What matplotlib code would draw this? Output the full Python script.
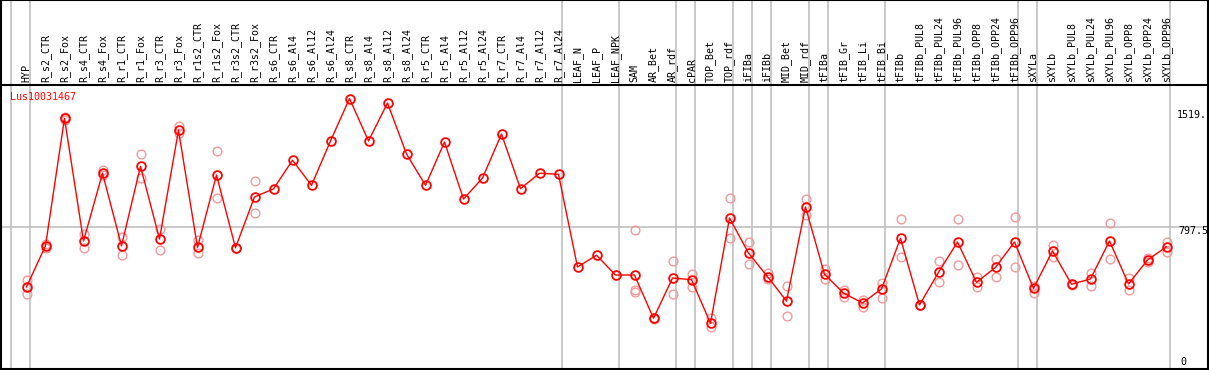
import matplotlib
matplotlib.use("Agg")
import matplotlib.pyplot as plt
from matplotlib.transforms import blended_transform_factory
from matplotlib.lines import Line2D

labels = ["HYP", "R_s2_CTR", "R_s2_Fox", "R_s4_CTR", "R_s4_Fox", "R_r1_CTR", "R_r1_Fox",
          "R_r3_CTR", "R_r3_Fox", "R_r1s2_CTR", "R_r1s2_Fox", "R_r3s2_CTR", "R_r3s2_Fox",
          "R_s6_CTR", "R_s6_Al4", "R_s6_Al12", "R_s6_Al24", "R_s8_CTR", "R_s8_Al4",
          "R_s8_Al12", "R_s8_Al24", "R_r5_CTR", "R_r5_Al4", "R_r5_Al12", "R_r5_Al24",
          "R_r7_CTR", "R_r7_Al4", "R_r7_Al12", "R_r7_Al24", "LEAF_N", "LEAF_P", "LEAF_NPK",
          "SAM", "AR_Bet", "AR_rdf", "cPAR", "TOP_Bet", "TOP_rdf", "iFIBa", "iFIBb",
          "MID_Bet", "MID_rdf", "tFIBa", "tFIB_Gr", "tFIB_Li", "tFIB_Bi", "tFIBb",
          "tFIBb_PUL8", "tFIBb_PUL24", "tFIBb_PUL96", "tFIBb_OPP8", "tFIBb_OPP24",
          "tFIBb_OPP96", "sXYLa", "sXYLb", "sXYLb_PUL8", "sXYLb_PUL24", "sXYLb_PUL96",
          "sXYLb_OPP8", "sXYLb_OPP24", "sXYLb_OPP96"]

means = [462, 693, 1408, 720, 1100, 693, 1139, 731, 1341, 684, 1090, 682, 967,
         1012, 1173, 1032, 1281, 1519, 1281, 1494, 1208, 1032, 1275, 955, 1073,
         1320, 1013, 1100, 1094, 574, 640, 529,
         529, 286, 512, 503, 258, 849, 652, 520, 383, 911, 533, 428, 372, 451,
         735, 361, 544, 714, 488, 572, 714, 454, 664, 477, 507, 720, 479, 613, 688]

replicates = [[501, 421], [703, 680], [1417, 1399], [759, 679], [1118, 1090], [740, 641],
              [1208, 1075], [787, 669], [1367, 1324], [725, 651], [1225, 959], [681, 683],
              [1056, 875],
              [], [], [], [], [], [], [], [], [], [], [], [], [], [], [], [],
              [], [], [],
              [782, 445, 434], [283, 289], [608, 421], [535, 460], [288, 239], [959, 735],
              [713, 591], [539, 505], [469, 299], [955, 866], [561, 507], [445, 407],
              [389, 351], [483, 398], [842, 628], [358, 363], [606, 488], [842, 583],
              [520, 460], [619, 520], [853, 572], [467, 430], [697, 628], [475, 479],
              [542, 467], [819, 617], [514, 445], [604, 622], [713, 660]]

group_ends = [-1, 0, 28, 31, 34, 35, 37, 38, 39, 41, 42, 45, 52, 53, 60]
gene = "Lus10031467"
y_max_axis = 1595
mid_line = 797.5
max_label = "1519."
mid_label = "797.5"
zero_label = "0"

W, H = 1209, 370
fig = plt.figure(figsize=(W / 100, H / 100), dpi=100)
top_px = 85
bot_px = 369.3
ax = fig.add_axes([0, (H - bot_px) / H, 1, (bot_px - top_px) / H])
step = 19.0
x0 = 26.5
ax.set_xlim(-x0 / step, (W - x0) / step)
ax.set_ylim(0, y_max_axis)
ax.set_xticks([])
ax.set_yticks([])
for s in ax.spines.values():
    s.set_color("black")
    s.set_linewidth(1.5)

mono = "DejaVu Sans Mono"
fs = 7.2
grey = "#c0c0c0"
header_frac = (top_px) / (bot_px - top_px)
bt = blended_transform_factory(ax.transData, ax.transAxes)

for g in group_ends:
    xg = g + 0.21
    ln = Line2D([xg, xg], [0, 1 + header_frac], transform=bt, color=grey, lw=1.2,
                clip_on=False, zorder=0)
    ax.add_line(ln)

ax.axhline(mid_line, color=grey, lw=1.2, zorder=0)

xs = list(range(len(labels)))
for i, lab in enumerate(labels):
    ax.text(i, 1 + 3.5 / (bot_px - top_px), lab, transform=bt, rotation=90,
            ha="center", va="bottom", fontsize=fs, family=mono, color="black",
            clip_on=False)

# replicates
rx, ry = [], []
for i, reps in enumerate(replicates):
    for v in reps:
        rx.append(i)
        ry.append(v)
ax.plot(rx, ry, linestyle="none", marker="o", markersize=6.3, markerfacecolor="none",
        markeredgecolor="#f09a9a", markeredgewidth=1.0, zorder=2)

ax.plot(xs, means, color="red", lw=1.0, zorder=3)
ax.plot(xs, means, linestyle="none", marker="o", markersize=6.3, markerfacecolor="none",
        markeredgecolor="red", markeredgewidth=1.3, zorder=4)

ax.text(10 / W, 1 - 12 / (bot_px - top_px), gene, transform=ax.transAxes, color="red",
        fontsize=fs, family=mono, ha="left", va="center")

rt = blended_transform_factory(ax.transAxes, ax.transData)
ax.annotate(max_label, xy=(1177 / W, max(means)), xycoords=rt, xytext=(0, -12),
            textcoords="offset points", ha="left", va="center", fontsize=fs, family=mono)
ax.annotate(mid_label, xy=(1178 / W, mid_line), xycoords=rt, xytext=(0, -3),
            textcoords="offset points", ha="left", va="center", fontsize=fs, family=mono)
ax.annotate(zero_label, xy=(1180 / W, 0), xycoords=rt, xytext=(0, 5),
            textcoords="offset points", ha="left", va="center", fontsize=fs, family=mono)

# outer frame
for (xa, ya, xb, yb) in [(0, 1, 1, 1), (0.001, 0, 0.001, 1), (0.999, 0, 0.999, 1)]:
    fig.add_artist(Line2D([xa, xb], [ya, yb], transform=fig.transFigure, color="black",
                          lw=1.5))

fig.savefig("out.png", dpi=100)
